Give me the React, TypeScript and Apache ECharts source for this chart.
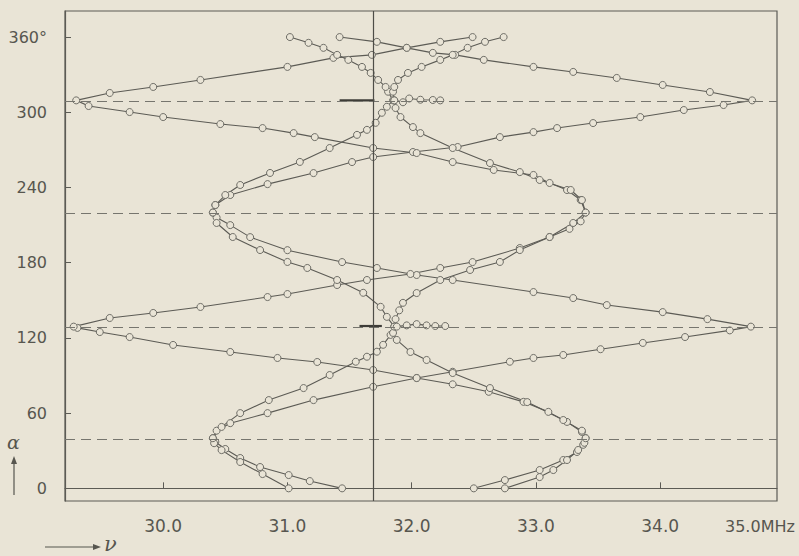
import React, { useEffect, useRef } from 'react';
import * as echarts from 'echarts';

// ---- data: [frequency nu (MHz), rotation angle alpha (deg)] ----
const curveP: [number, number][] = [
  [31.44, 0], [31.18, 5.8], [31.01, 10.6], [30.78, 17], [30.62, 24.2], [30.5, 31.4], [30.42, 37], [30.4, 40],
  [30.43, 46], [30.54, 52], [30.84, 60], [31.21, 70.4], [31.69, 81], [32.04, 88], [32.33, 93], [32.79, 101],
  [32.98, 104], [33.22, 106.4], [33.52, 111], [33.86, 116], [34.2, 120.7], [34.56, 126], [34.73, 129],
  [34.38, 135], [34.02, 140.6], [33.57, 146.2], [33.3, 151.8], [32.98, 156.6], [32.33, 166.2], [32.04, 170.2],
  [31.72, 175.8], [31.44, 180.5], [31.0, 190], [30.7, 200.4], [30.54, 210], [30.43, 216], [30.4, 220],
  [30.42, 226], [30.54, 234], [30.84, 242.7], [31.21, 251.5], [31.52, 260.3], [31.69, 264.3], [32.01, 268.3],
  [32.37, 272.3], [32.71, 280.2], [32.98, 284.2], [33.17, 287.4], [33.46, 291.4], [33.84, 296.2], [34.19, 301.8],
  [34.51, 305.8], [34.74, 309.5], [34.4, 316.2], [34.02, 321.8], [33.65, 327.4], [33.3, 332.2], [32.98, 336.2],
  [32.58, 341.8], [32.35, 345.8], [32.17, 347.4], [31.96, 351.4], [31.72, 356.2], [31.42, 360],
];

const curveQ: [number, number][] = [
  [32.5, 0], [32.75, 6.6], [33.03, 14.6], [33.22, 22.6], [33.33, 29], [33.38, 34.7], [33.4, 40],
  [33.37, 45], [33.25, 53], [33.1, 61], [32.9, 69], [32.62, 77], [32.33, 83], [32.04, 88], [31.69, 94.4],
  [31.24, 100.8], [30.92, 104], [30.54, 108.8], [30.08, 114.4], [29.73, 120.7], [29.49, 124.7], [29.31, 128],
  [29.28, 129], [29.57, 135.9], [29.92, 139.9], [30.3, 144.7], [30.84, 152.6], [31.0, 155], [31.4, 162.2],
  [31.64, 166.2], [31.99, 171], [32.23, 175.8], [32.49, 180.5], [32.87, 191.7], [33.11, 200.5], [33.27, 207],
  [33.36, 213], [33.4, 220], [33.36, 230], [33.25, 238], [33.11, 243.6], [32.98, 250], [32.66, 254],
  [32.33, 260.3], [32.04, 267.5], [31.69, 271.5], [31.22, 280.2], [31.05, 283.4], [30.8, 287.4], [30.46, 290.6],
  [30.0, 296.2], [29.73, 300.2], [29.4, 305], [29.3, 309.5], [29.57, 315.4], [29.92, 320.2], [30.3, 325.8],
  [31.0, 336.2], [31.37, 343.4], [31.68, 345.8], [31.96, 351.4], [32.23, 356.2], [32.49, 360],
];

const curveR: [number, number][] = [
  [31.01, 0], [30.8, 11.4], [30.62, 21], [30.47, 30.5], [30.41, 36], [30.4, 40], [30.47, 49], [30.62, 60],
  [30.85, 70.4], [31.13, 80], [31.34, 90.4], [31.55, 101], [31.64, 105], [31.72, 109], [31.77, 114.5],
  [31.83, 122.4], [31.86, 129], [31.8, 136.8], [31.75, 144.8], [31.61, 156], [31.4, 166.2], [31.16, 175.8],
  [31.0, 180.6], [30.78, 190.1], [30.56, 200.5], [30.43, 211.7], [30.4, 220], [30.42, 226], [30.5, 234],
  [30.62, 242], [30.86, 251.6], [31.1, 260.4], [31.34, 271.5], [31.56, 282], [31.64, 286], [31.71, 291.6],
  [31.76, 299.6], [31.8, 304.4], [31.85, 309.5], [31.81, 316.4], [31.79, 320.2], [31.73, 325.8], [31.67, 331.4],
  [31.6, 336.2], [31.49, 341.8], [31.4, 345.8], [31.29, 351.4], [31.17, 355.4], [31.02, 360],
];

const curveS: [number, number][] = [
  [32.75, 0], [33.03, 9], [33.14, 14.6], [33.25, 22.6], [33.34, 30.6], [33.39, 36.3], [33.4, 40], [33.37, 46],
  [33.22, 54.5], [32.93, 68.8], [32.63, 80], [32.33, 92], [32.12, 102.4], [31.99, 108.8], [31.88, 118.4],
  [31.85, 124], [31.86, 129], [31.87, 135], [31.9, 142], [31.93, 148], [32.04, 155.8], [32.23, 166.2],
  [32.47, 174.2], [32.71, 180.6], [32.87, 190.1], [33.11, 200.5], [33.3, 211.7], [33.4, 220], [33.37, 230],
  [33.28, 238], [33.03, 246], [32.87, 252.3], [32.63, 259.5], [32.33, 271.5], [32.07, 283.4], [32.01, 288.2],
  [31.91, 296.2], [31.87, 303.4], [31.86, 309.5], [31.85, 316.4], [31.86, 320.2], [31.89, 325.8], [31.97, 331.4],
  [32.08, 336.2], [32.23, 341.8], [32.33, 345.8], [32.45, 351.4], [32.59, 356.2], [32.74, 360],
];

const tail129: [number, number][] = [[31.88, 129], [31.96, 130], [32.04, 131], [32.12, 130], [32.19, 129.5], [32.27, 129.5]];
const tail309: [number, number][] = [[31.86, 309.5], [31.93, 308], [31.98, 311], [32.07, 310], [32.17, 309.8], [32.23, 309.5]];
const stroke129: [number, number][] = [[31.58, 129.5], [31.76, 129.5]];
const stroke309: [number, number][] = [[31.42, 309.5], [31.7, 309.5]];

const dashedAlphas = [39.5, 128.9, 219.8, 309.2];
const centerNu = 31.69;

const xTicks = [30, 31, 32, 33, 34];
const yTicks = [0, 60, 120, 180, 240, 300, 360];

const BG = '#e9e4d6';
const INK = '#5c5b55';
const TXT = '#57564f';
const FONT = 'DejaVu Sans';

export default function App() {
  const ref = useRef<HTMLDivElement>(null);
  useEffect(() => {
    const chart = echarts.init(ref.current!, null, { renderer: 'svg' });
    const lineSeries = (name: string, data: [number, number][]) => ({
      name,
      type: 'line',
      data,
      symbol: 'circle',
      symbolSize: 7,
      showSymbol: true,
      lineStyle: { color: INK, width: 1.1 },
      itemStyle: { color: BG, borderColor: '#6e6d66', borderWidth: 1 },
      z: 3,
    });
    const strokeSeries = (name: string, data: [number, number][]) => ({
      name,
      type: 'line',
      data,
      symbol: 'none',
      lineStyle: { color: '#3d3c37', width: 2.2 },
      z: 4,
    });
    chart.setOption({
      animation: false,
      backgroundColor: BG,
      grid: { left: 65, right: 22, top: 11, bottom: 55, show: true, borderColor: INK, borderWidth: 1.2 },
      xAxis: {
        type: 'value',
        min: 29.21,
        max: 34.94,
        axisLine: { show: true, lineStyle: { color: INK, width: 1.2 } },
        axisTick: { show: true, inside: true, length: 6, customValues: xTicks, lineStyle: { color: INK } },
        axisLabel: {
          customValues: xTicks,
          formatter: (v: number) => v.toFixed(1),
          fontSize: 17,
          fontFamily: FONT,
          color: TXT,
          margin: 16,
        },
        splitLine: { show: false },
      },
      yAxis: {
        type: 'value',
        min: -10.1,
        max: 380.8,
        axisLine: { show: true, lineStyle: { color: INK, width: 1.2 } },
        axisTick: { show: true, inside: true, length: 6, customValues: yTicks, lineStyle: { color: INK } },
        axisLabel: {
          customValues: yTicks,
          formatter: (v: number) => (v === 360 ? '360°' : String(v)),
          fontSize: 16,
          fontFamily: FONT,
          color: TXT,
          margin: 18,
        },
        splitLine: { show: false },
      },
      series: [
        {
          ...lineSeries('P', curveP),
          markLine: {
            silent: true,
            symbol: 'none',
            label: { show: false },
            data: [
              ...dashedAlphas.map((a) => ({ yAxis: a, lineStyle: { type: [10, 6], color: '#76756e', width: 1.2 } })),
              { xAxis: centerNu, lineStyle: { type: 'solid', color: '#4e4d47', width: 1.2 } },
            ],
          },
        },
        lineSeries('Q', curveQ),
        lineSeries('R', curveR),
        lineSeries('S', curveS),
        lineSeries('tail129', tail129),
        lineSeries('tail309', tail309),
        strokeSeries('stroke129', stroke129),
        strokeSeries('stroke309', stroke309),
      ],
      graphic: [
        { type: 'text', left: 7, top: 432, style: { text: 'α', font: 'italic 19px DejaVu Serif', fill: TXT } },
        { type: 'line', shape: { x1: 14, y1: 495, x2: 14, y2: 460 }, style: { stroke: TXT, lineWidth: 1.2 } },
        { type: 'polygon', shape: { points: [[11, 464], [14, 456], [17, 464]] }, style: { fill: TXT } },
        { type: 'line', shape: { x1: 45, y1: 547, x2: 95, y2: 547 }, style: { stroke: TXT, lineWidth: 1.2 } },
        { type: 'polygon', shape: { points: [[93, 544], [101, 547], [93, 550]] }, style: { fill: TXT } },
        { type: 'text', left: 104, top: 533, style: { text: 'ν', font: 'italic 21px DejaVu Serif', fill: TXT } },
        { type: 'text', left: 725, top: 518, style: { text: '35.0MHz', font: '16px DejaVu Sans', fill: TXT } },
      ],
    });
    return () => chart.dispose();
  }, []);
  return (
    <div
      ref={ref}
      style={{ position: 'fixed', left: 0, top: 0, width: 799, height: 556, background: BG }}
    />
  );
}
